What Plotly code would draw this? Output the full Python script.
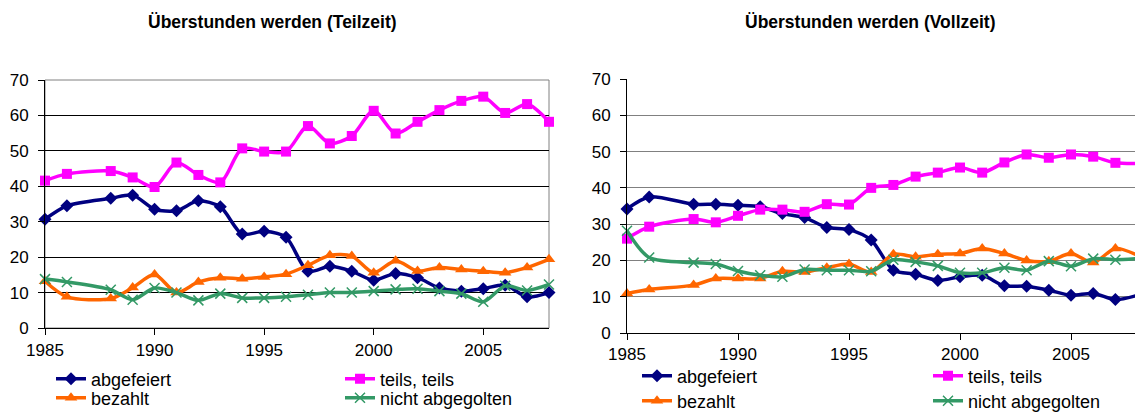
import plotly.graph_objects as go

years = [1985, 1986, 1988, 1989, 1990, 1991, 1992, 1993, 1994, 1995, 1996, 1997,
         1998, 1999, 2000, 2001, 2002, 2003, 2004, 2005, 2006, 2007, 2008]

series_names = ["abgefeiert", "teils, teils", "bezahlt", "nicht abgegolten"]
titles = ["Überstunden werden (Teilzeit)", "Überstunden werden (Vollzeit)"]

# Teilzeit
tz_abgefeiert = [30.7, 34.5, 36.6, 37.5, 33.5, 33.1, 35.9, 34.2, 26.5, 27.3, 25.6, 16.0,
                 17.4, 16.0, 13.5, 15.4, 14.2, 11.3, 10.4, 11.1, 12.1, 8.8, 10.0]
tz_teils = [41.6, 43.5, 44.3, 42.5, 39.8, 46.7, 43.2, 41.1, 50.7, 49.8, 49.8, 57.0,
            52.1, 54.2, 61.3, 54.9, 58.2, 61.5, 64.1, 65.3, 60.7, 63.2, 58.2]
tz_bezahlt = [13.2, 8.8, 8.3, 11.4, 15.1, 10.0, 13.0, 14.2, 13.9, 14.4, 15.2, 17.7,
              20.5, 20.3, 15.6, 19.0, 16.1, 17.1, 16.5, 16.0, 15.6, 17.1, 19.4]
tz_nicht = [13.8, 13.0, 10.8, 8.0, 11.3, 10.0, 7.8, 9.7, 8.5, 8.5, 8.8, 9.4,
            10.0, 10.0, 10.4, 10.9, 11.1, 10.4, 9.7, 7.4, 11.9, 10.6, 12.3]

# Vollzeit
vz_abgefeiert = [34.2, 37.5, 35.5, 35.5, 35.2, 34.8, 32.9, 31.8, 29.1, 28.5, 25.6, 17.3,
                 16.2, 14.5, 15.5, 15.9, 13.0, 12.9, 11.8, 10.4, 10.9, 9.2, 10.4]
vz_teils = [26.0, 29.3, 31.4, 30.5, 32.3, 34.0, 34.0, 33.4, 35.5, 35.4, 40.0, 40.8,
            43.1, 44.2, 45.6, 44.2, 47.0, 49.2, 48.3, 49.2, 48.6, 46.9, 46.7]
vz_bezahlt = [10.9, 12.0, 13.2, 15.0, 15.0, 15.0, 17.0, 16.8, 18.0, 19.0, 16.8, 21.7,
              21.0, 21.7, 21.9, 23.3, 21.9, 20.0, 19.8, 21.9, 19.4, 23.3, 21.4]
vz_nicht = [28.2, 20.8, 19.4, 19.0, 17.1, 15.9, 15.5, 17.5, 17.3, 17.3, 17.0, 20.2,
            19.6, 18.5, 16.6, 16.6, 18.0, 17.3, 19.8, 18.4, 20.5, 20.2, 20.5]

x_ticks = [1985, 1990, 1995, 2000, 2005]
y_ticks = [0, 10, 20, 30, 40, 50, 60, 70]

colors = ["#000080", "#FF00FF", "#FF6600", "#339966"]
symbols = ["diamond", "square", "triangle-up", "x-thin"]
sizes = [10, 10, 11, 10]

W, H = 1135, 412
fig = go.Figure()

panels = [
    ("x", "y", [tz_abgefeiert, tz_teils, tz_bezahlt, tz_nicht], ["legend", "legend2", "legend3", "legend4"]),
    ("x2", "y2", [vz_abgefeiert, vz_teils, vz_bezahlt, vz_nicht], ["legend5", "legend6", "legend7", "legend8"]),
]

for xa, ya, data, legs in panels:
    for i, vals in enumerate(data):
        mk = dict(symbol=symbols[i], size=sizes[i], color=colors[i])
        if symbols[i] == "x-thin":
            mk["line"] = dict(color=colors[i], width=1.5)
        fig.add_trace(go.Scatter(
            x=years, y=vals, name=series_names[i], xaxis=xa, yaxis=ya,
            mode="lines+markers",
            line=dict(color=colors[i], width=3.5, shape="spline", smoothing=0.8),
            marker=mk, cliponaxis=False, legend=legs[i],
        ))

tickfont = dict(family="Liberation Sans, Arial, sans-serif", size=17, color="black")

def px_x(p):
    return p / W

def px_y(p):
    return 1 - p / H

common_y = dict(range=[0, 70], tickvals=y_ticks, ticks="outside", ticklen=6,
                tickcolor="black", showline=True, linecolor="black", linewidth=1,
                tickfont=tickfont, zeroline=False, fixedrange=True, automargin=False)
common_x = dict(tickvals=x_ticks, ticks="outside", ticklen=6, tickcolor="black",
                showline=True, linecolor="black", linewidth=1, showgrid=False,
                tickfont=tickfont, zeroline=False, automargin=False)

fig.update_layout(
    width=W, height=H, margin=dict(l=0, r=0, t=0, b=0, autoexpand=False),
    paper_bgcolor="white", plot_bgcolor="white",
    xaxis=dict(domain=[px_x(45), px_x(549)], range=[1985, 2008], anchor="y",
               ticklabelstandoff=1, **common_x),
    yaxis=dict(domain=[px_y(328), px_y(80)], anchor="x", showgrid=True,
               gridcolor="black", gridwidth=1, ticklabelstandoff=6, **common_y),
    xaxis2=dict(domain=[px_x(627), 1.0], range=[1985, 1985 + 508 / 22.2], anchor="y2",
                ticklabelstandoff=0, **common_x),
    yaxis2=dict(domain=[px_y(333), px_y(79)], anchor="x2", showgrid=True,
                gridcolor="#808080", gridwidth=1, ticklabelstandoff=6, **common_y),
    showlegend=True,
)

legfont = dict(family="Liberation Sans, Arial, sans-serif", size=18, color="black")
leg_pos = {
    "legend": (91, 379), "legend2": (380, 379), "legend3": (91, 398), "legend4": (380, 398),
    "legend5": (677, 376), "legend6": (968, 376), "legend7": (677, 401), "legend8": (968, 401),
}
for k, (tx, ty) in leg_pos.items():
    fig.update_layout({k: dict(x=px_x(tx - 40), y=px_y(ty), xanchor="left", yanchor="middle",
                               xref="container", yref="container",
                               bgcolor="rgba(0,0,0,0)", borderwidth=0, font=legfont,
                               orientation="h", itemwidth=30)})

# plot border for the left panel (gray top/right)
fig.add_shape(type="rect", xref="x domain", yref="y domain", x0=0, x1=1, y0=0, y1=1,
              line=dict(color="#808080", width=1), layer="below")

for t, cx in zip(titles, [272, 870]):
    fig.add_annotation(text="<b>%s</b>" % t, xref="paper", yref="paper",
                       x=px_x(cx), y=px_y(22), xanchor="center", yanchor="middle",
                       showarrow=False,
                       font=dict(family="Liberation Sans, Arial, sans-serif", size=17.5, color="black"))

fig.write_html("out.html", config={"displayModeBar": False},
               post_script="document.body.style.margin='0';")
